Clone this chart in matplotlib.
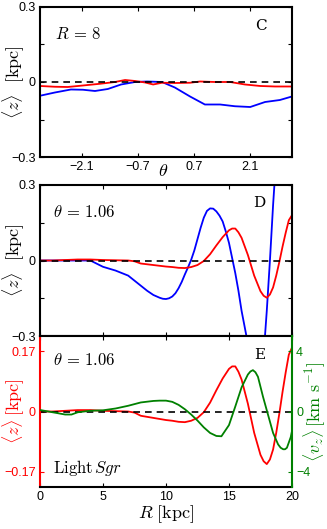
import numpy as np
import matplotlib
matplotlib.use("Agg")
import matplotlib.pyplot as plt

plt.rcParams['font.family'] = ['Liberation Sans', 'DejaVu Sans']
plt.rcParams['mathtext.fontset'] = 'cm'

# panel C: <z> vs theta at R = 8
theta_c = [-3.14, -2.77, -2.37, -2.07, -1.77, -1.45, -1.12, -0.77, -0.47, -0.1,
           0.22, 0.6, 0.97, 1.35, 1.72, 2.1, 2.47, 2.84, 3.14]
z_blue_c = [-0.055, -0.042, -0.030, -0.031, -0.036, -0.028, -0.010, 0.0, 0.002, 0.0,
            -0.022, -0.058, -0.09, -0.09, -0.097, -0.1, -0.08, -0.072, -0.058]
theta_c_red = [-3.14, -2.77, -2.45, -2.07, -1.64, -1.27, -1.02, -0.77, -0.52, -0.32,
               -0.1, 0.22, 0.6, 0.85, 1.22, 1.6, 1.97, 2.35, 2.72, 3.14]
z_red_c = [-0.016, -0.019, -0.02, -0.014, -0.007, 0.0, 0.008, 0.004, -0.002, -0.01,
           -0.003, -0.004, -0.003, 0.002, 0.0, 0.0, -0.01, -0.016, -0.018, -0.018]

# panel D: <z> vs R at theta = 1.06
r_blue = [0, 2, 4, 5, 6, 7, 8, 8.5, 9, 9.5, 9.75, 10, 10.25, 10.5, 10.75, 11, 11.25,
          11.5, 11.75, 12, 12.25, 12.5, 12.75, 13, 13.25, 13.5, 13.75, 14, 14.25,
          14.5, 14.75, 15, 15.25, 15.5, 15.75, 16, 16.5, 17, 17.25, 17.5, 18, 18.25,
          18.5, 19, 20]
z_blue = [0, 0, 0, -0.025, -0.04, -0.06, -0.1, -0.12, -0.137, -0.148, -0.152, -0.153,
          -0.15, -0.143, -0.13, -0.11, -0.085, -0.055, -0.027, 0.003, 0.04, 0.085,
          0.13, 0.17, 0.197, 0.207, 0.206, 0.195, 0.178, 0.155, 0.115, 0.07, 0.01,
          -0.05, -0.12, -0.2, -0.33, -0.5, -0.56, -0.55, -0.2, 0.0, 0.22, 0.6, 1.3]
r_red = [0, 1, 2, 3, 4, 5, 6, 7, 7.5, 8, 9, 10, 10.5, 11, 11.5, 12, 12.5, 13, 13.5,
         14, 14.5, 15, 15.25, 15.5, 15.75, 16, 16.5, 17, 17.5, 17.75, 18, 18.25, 18.5,
         18.75, 19, 19.25, 19.5, 19.75, 20]
z_red = [0, 0, 0.002, 0.004, 0.004, 0.002, 0.001, 0, -0.003, -0.012, -0.018, -0.024,
         -0.026, -0.029, -0.03, -0.026, -0.018, -0.002, 0.025, 0.06, 0.093, 0.12, 0.127,
         0.127, 0.112, 0.09, 0.022, -0.06, -0.122, -0.14, -0.148, -0.135, -0.107,
         -0.06, -0.005, 0.055, 0.11, 0.16, 0.18]

# panel E: <v_z> vs R at theta = 1.06
r_green = [0, 1, 2, 2.5, 3, 4, 5, 6, 7, 8, 9, 9.5, 10, 10.5, 11, 11.5, 12, 12.5, 13,
           13.5, 14, 14.4, 15, 15.5, 16, 16.5, 16.7, 16.9, 17.1, 17.3, 17.7, 18.1,
           18.5, 18.9, 19.1, 19.3, 19.45, 19.6, 19.9, 20]
vz_green = [0.1, -0.05, -0.2, -0.2, -0.05, 0.05, 0.08, 0.2, 0.38, 0.6, 0.7, 0.72, 0.72,
            0.64, 0.44, 0.15, -0.2, -0.6, -1.05, -1.42, -1.62, -1.64, -0.9, 0.33, 1.6,
            2.45, 2.65, 2.74, 2.6, 2.3, 0.98, -0.22, -1.42, -2.18, -2.4, -2.5, -2.5,
            -2.4, -1.7, -1.3]

RED = '#ff0000'
BLUE = '#0000ff'
GREEN = '#008000'
lw = 1.3

fig = plt.figure(figsize=(3.27, 5.29), dpi=100)
axC = fig.add_axes([0.1223, 0.7032, 0.7706, 0.2836])
axD = fig.add_axes([0.1223, 0.3648, 0.7706, 0.2855])
axE = fig.add_axes([0.1223, 0.0794, 0.7706, 0.2854])

zlabel = r'$\langle z\rangle\ \ [\mathrm{kpc}]$'

def style(ax):
    for s in ax.spines.values():
        s.set_linewidth(1.5)
    ax.tick_params(direction='in', length=3, width=0.8, labelsize=9,
                   top=True, right=True, pad=3)

# --- C ---
axC.plot(theta_c, z_blue_c, color=BLUE, lw=lw)
axC.plot(theta_c_red, z_red_c, color=RED, lw=lw)
axC.axhline(0, color='k', ls=(0, (4, 3)), lw=1.2)
axC.set_xlim(-np.pi, np.pi)
axC.set_ylim(-0.3, 0.3)
axC.set_xticks([-2.1, -0.7, 0.7, 2.1])
axC.set_xticklabels(['\u22122.1', '\u22120.7', '0.7', '2.1'])
axC.set_yticks([-0.3, -0.15, 0, 0.15, 0.3])
axC.set_yticklabels(['\u22120.3', '', '0', '', '0.3'])
style(axC)
axC.set_ylabel(zlabel, fontsize=13)
axC.yaxis.set_label_coords(-0.052, 0.5)
axC.set_xlabel(r'$\theta$', fontsize=13, labelpad=0)
axC.xaxis.set_label_coords(0.49, -0.04)
axC.text(0.06, 0.82, r'$R\,=\,8$', transform=axC.transAxes, fontsize=12, va='center')
axC.text(0.875, 0.875, 'C', transform=axC.transAxes, fontsize=11,
         family='DejaVu Serif', ha='center', va='center')

# --- D ---
axD.plot(r_blue, z_blue, color=BLUE, lw=lw)
axD.plot(r_red, z_red, color=RED, lw=lw)
axD.axhline(0, color='k', ls=(0, (4, 3)), lw=1.2)
axD.set_xlim(0, 20)
axD.set_ylim(-0.3, 0.3)
axD.set_xticks([0, 5, 10, 15, 20])
axD.set_xticklabels([])
axD.set_yticks([-0.3, -0.15, 0, 0.15, 0.3])
axD.set_yticklabels(['\u22120.3', '', '0', '', '0.3'])
style(axD)
axD.set_ylabel(zlabel, fontsize=13)
axD.yaxis.set_label_coords(-0.052, 0.5)
axD.text(0.05, 0.82, r'$\theta\,=\,1.06$', transform=axD.transAxes, fontsize=12, va='center')
axD.text(0.87, 0.88, 'D', transform=axD.transAxes, fontsize=11,
         family='DejaVu Serif', ha='center', va='center')

# --- E ---
axE.plot(r_red, z_red, color=RED, lw=lw)
axE.axhline(0, color='k', ls=(0, (4, 3)), lw=1.2)
axE.set_xlim(0, 20)
axE.set_ylim(-0.2125, 0.2125)
axE.set_xticks([0, 5, 10, 15, 20])
axE.set_yticks([-0.17, 0, 0.17])
axE.set_yticklabels(['\u22120.17', '0', '0.17'])
style(axE)
axE.tick_params(axis='y', right=False, colors=RED)
axE.tick_params(axis='x', colors='k')
axE.spines['left'].set_color(RED)
axE.spines['right'].set_visible(False)
axE.set_ylabel(r'$\langle z\rangle\,[\mathrm{kpc}]$', fontsize=13, color=RED)
axE.yaxis.set_label_coords(-0.052, 0.5)
axE.set_xlabel(r'$R\ [\mathrm{kpc}]$', fontsize=13, labelpad=0)
axE.text(0.05, 0.84, r'$\theta\,=\,1.06$', transform=axE.transAxes, fontsize=12, va='center')
axE.text(0.87, 0.875, 'E', transform=axE.transAxes, fontsize=11,
         family='DejaVu Serif', ha='center', va='center')
axE.text(0.05, 0.126, r'$\mathrm{Light}\,Sgr$', transform=axE.transAxes, fontsize=12,
         va='center')

ax2 = axE.twinx()
ax2.plot(r_green, vz_green, color=GREEN, lw=lw)
ax2.set_ylim(-5, 5)
ax2.set_yticks([-4, 0, 4])
ax2.set_yticklabels(['\u22124', '0', '4'])
for s in ['left', 'top', 'bottom']:
    ax2.spines[s].set_visible(False)
ax2.spines['right'].set_color(GREEN)
ax2.spines['right'].set_linewidth(1.5)
ax2.tick_params(axis='y', direction='in', length=3, width=0.8, labelsize=9,
                colors=GREEN, pad=3)
ax2.set_ylabel(r'$\langle v_z\rangle\,[\mathrm{km\ s^{-1}}]$', fontsize=13, color=GREEN)
ax2.yaxis.set_label_coords(1.04, 0.5)

fig.savefig('out.png', dpi=100)
